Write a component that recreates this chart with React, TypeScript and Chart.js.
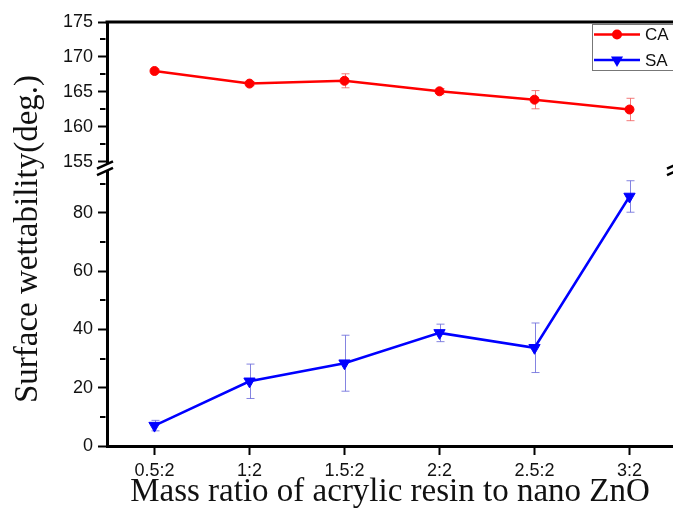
import React, { useEffect, useRef } from 'react';
import { Chart, registerables } from 'chart.js';

Chart.register(...registerables);

const categories = ['0.5:2', '1:2', '1.5:2', '2:2', '2.5:2', '3:2'];
const caValues = [168.0, 166.2, 166.6, 165.1, 163.9, 162.5];
const caErrors = [0.25, 0.3, 1.0, 0.4, 1.3, 1.6];
const saValues = [7.0, 22.2, 28.4, 38.8, 33.7, 85.6];
const saErrors = [1.8, 5.9, 9.6, 3.0, 8.5, 5.4];
const topMajorTicks = [155, 160, 165, 170, 175];
const topMinorTicks = [157.5, 162.5, 167.5, 172.5];
const bottomMajorTicks = [0, 20, 40, 60, 80];
const bottomMinorTicks = [10, 30, 50, 70, 90];
const seriesNames = ['CA', 'SA'];
const yTitle = 'Surface wettability(deg.)';
const xTitle = 'Mass ratio of acrylic resin to nano ZnO';

const RED = '#ff0000';
const BLUE = '#0000ff';
const CANVAS_W = 700;
const CANVAS_H = 508;

function drawTriangleDown(ctx: CanvasRenderingContext2D, x: number, y: number, r: number) {
  ctx.beginPath();
  ctx.moveTo(x - r * 0.866, y - r * 0.5);
  ctx.lineTo(x + r * 0.866, y - r * 0.5);
  ctx.lineTo(x, y + r);
  ctx.closePath();
  ctx.fill();
}

const decorPlugin = {
  id: 'decor',
  beforeDatasetsDraw(chart: any) {
    const ctx: CanvasRenderingContext2D = chart.ctx;
    const xs = chart.scales.x;
    const drawErr = (vals: number[], errs: number[], scale: any, color: string) => {
      ctx.save();
      ctx.strokeStyle = color;
      ctx.lineWidth = 1;
      vals.forEach((v, i) => {
        const px = Math.round(xs.getPixelForValue(i)) + 0.5;
        const y1 = scale.getPixelForValue(v + errs[i]);
        const y2 = scale.getPixelForValue(v - errs[i]);
        ctx.beginPath();
        ctx.moveTo(px, y1);
        ctx.lineTo(px, y2);
        ctx.moveTo(px - 4, y1);
        ctx.lineTo(px + 4, y1);
        ctx.moveTo(px - 4, y2);
        ctx.lineTo(px + 4, y2);
        ctx.stroke();
      });
      ctx.restore();
    };
    drawErr(caValues, caErrors, chart.scales.yTop, 'rgba(240,90,90,0.8)');
    drawErr(saValues, saErrors, chart.scales.yBot, 'rgba(110,110,220,0.85)');
  },
  afterDraw(chart: any) {
    const ctx: CanvasRenderingContext2D = chart.ctx;
    const area = chart.chartArea;
    const yTop = chart.scales.yTop;
    const yBot = chart.scales.yBot;
    ctx.save();
    // top frame line
    ctx.strokeStyle = '#000';
    ctx.lineWidth = 3;
    ctx.beginPath();
    ctx.moveTo(area.left - 1.5, area.top);
    ctx.lineTo(area.right + 2, area.top);
    ctx.stroke();
    // minor ticks
    ctx.lineWidth = 2;
    const drawMinor = (scale: any, vals: number[]) => {
      vals.forEach((v) => {
        const py = Math.round(scale.getPixelForValue(v));
        ctx.beginPath();
        ctx.moveTo(area.left - 1.5, py);
        ctx.lineTo(area.left - 7, py);
        ctx.stroke();
      });
    };
    drawMinor(yTop, topMinorTicks);
    drawMinor(yBot, bottomMinorTicks);
    // axis breaks
    const yj = yTop.bottom;
    const drawBreak = (ax: number) => {
      const cx = ax - 2;
      const w = 8;
      const s = 0.45;
      const g1 = yj - 3;
      const g2 = yj + 3.5;
      ctx.fillStyle = '#fff';
      ctx.beginPath();
      ctx.moveTo(cx - w, g1 + w * s);
      ctx.lineTo(cx + w, g1 - w * s);
      ctx.lineTo(cx + w, g2 - w * s);
      ctx.lineTo(cx - w, g2 + w * s);
      ctx.closePath();
      ctx.fill();
      ctx.strokeStyle = '#000';
      ctx.lineWidth = 2.5;
      ctx.beginPath();
      ctx.moveTo(cx - w, g1 + w * s);
      ctx.lineTo(cx + w, g1 - w * s);
      ctx.moveTo(cx - w, g2 + w * s);
      ctx.lineTo(cx + w, g2 - w * s);
      ctx.stroke();
    };
    drawBreak(area.left);
    drawBreak(area.right);
    // titles
    ctx.fillStyle = '#111';
    ctx.font = '33px "Liberation Serif", "Times New Roman", serif';
    ctx.textAlign = 'center';
    ctx.textBaseline = 'alphabetic';
    ctx.fillText(xTitle, 390, 501);
    ctx.save();
    ctx.translate(37, 239);
    ctx.rotate(-Math.PI / 2);
    ctx.fillText(yTitle, 0, 0);
    ctx.restore();
    // legend
    ctx.strokeStyle = '#777';
    ctx.lineWidth = 1;
    ctx.strokeRect(592.5, 24.5, 120, 46);
    const rows = [34.5, 60];
    ctx.font = '17px "Liberation Sans", Arial, sans-serif';
    ctx.textAlign = 'left';
    ctx.textBaseline = 'middle';
    seriesNames.forEach((name, i) => {
      const color = i === 0 ? RED : BLUE;
      ctx.strokeStyle = color;
      ctx.fillStyle = color;
      ctx.lineWidth = 2.5;
      ctx.beginPath();
      ctx.moveTo(594, rows[i]);
      ctx.lineTo(640, rows[i]);
      ctx.stroke();
      if (i === 0) {
        ctx.beginPath();
        ctx.arc(617, rows[i], 5, 0, Math.PI * 2);
        ctx.fill();
      } else {
        drawTriangleDown(ctx, 617, rows[i], 7);
      }
      ctx.fillStyle = '#111';
      ctx.fillText(name, 645, rows[i] + 1);
    });
    ctx.restore();
  },
};

export default function App() {
  const ref = useRef<HTMLCanvasElement | null>(null);
  useEffect(() => {
    if (!ref.current) return;
    const axisFont = { family: '"Liberation Sans", Arial, sans-serif', size: 18 };
    const chart = new Chart(ref.current, {
      type: 'line',
      data: {
        labels: categories,
        datasets: [
          {
            label: seriesNames[0],
            data: caValues,
            yAxisID: 'yTop',
            borderColor: RED,
            backgroundColor: RED,
            borderWidth: 2.5,
            pointRadius: 4.5,
            pointBorderWidth: 1,
            pointStyle: 'circle',
            tension: 0,
          },
          {
            label: seriesNames[1],
            data: saValues,
            yAxisID: 'yBot',
            borderColor: BLUE,
            backgroundColor: BLUE,
            borderWidth: 2.5,
            pointRadius: 6.5,
            pointBorderWidth: 1,
            pointStyle: 'triangle',
            rotation: 180,
            tension: 0,
          },
        ],
      },
      options: {
        animation: false,
        responsive: false,
        layout: { padding: { left: 0, top: 22, right: CANVAS_W - 677, bottom: 0 } },
        plugins: { legend: { display: false }, tooltip: { enabled: false }, title: { display: false } },
        scales: {
          x: {
            type: 'category',
            offset: true,
            grid: { offset: false, drawOnChartArea: false, drawTicks: true, tickLength: 9, tickWidth: 2, tickColor: '#000' },
            border: { display: true, width: 3, color: '#000' },
            ticks: { font: axisFont, color: '#111', padding: 5, maxRotation: 0, autoSkip: false },
            afterFit: (s: any) => { s.height = 62; },
          },
          yTop: {
            type: 'linear',
            position: 'left',
            stack: 'y',
            stackWeight: 146,
            weight: 1,
            min: 154.14,
            max: 175,
            afterBuildTicks: (s: any) => { s.ticks = topMajorTicks.map((v) => ({ value: v })); },
            grid: { drawOnChartArea: false, drawTicks: true, tickLength: 9, tickWidth: 2, tickColor: '#000' },
            border: { display: true, width: 3, color: '#000' },
            ticks: { font: axisFont, color: '#111', padding: 5, autoSkip: false },
            afterFit: (s: any) => { s.width = 107; },
          },
          yBot: {
            type: 'linear',
            position: 'left',
            stack: 'y',
            stackWeight: 278,
            weight: 0,
            min: 0,
            max: 95.37,
            afterBuildTicks: (s: any) => { s.ticks = bottomMajorTicks.map((v) => ({ value: v })); },
            grid: { drawOnChartArea: false, drawTicks: true, tickLength: 9, tickWidth: 2, tickColor: '#000' },
            border: { display: true, width: 3, color: '#000' },
            ticks: { font: axisFont, color: '#111', padding: 5, autoSkip: false },
            afterFit: (s: any) => { s.width = 107; },
          },
        },
      },
      plugins: [decorPlugin],
    });
    return () => chart.destroy();
  }, []);
  return (
    <div style={{ position: 'absolute', left: 0, top: 0, width: 673, height: 508, overflow: 'hidden', background: '#fff' }}>
      <canvas ref={ref} width={CANVAS_W} height={CANVAS_H} style={{ display: 'block' }} />
    </div>
  );
}
